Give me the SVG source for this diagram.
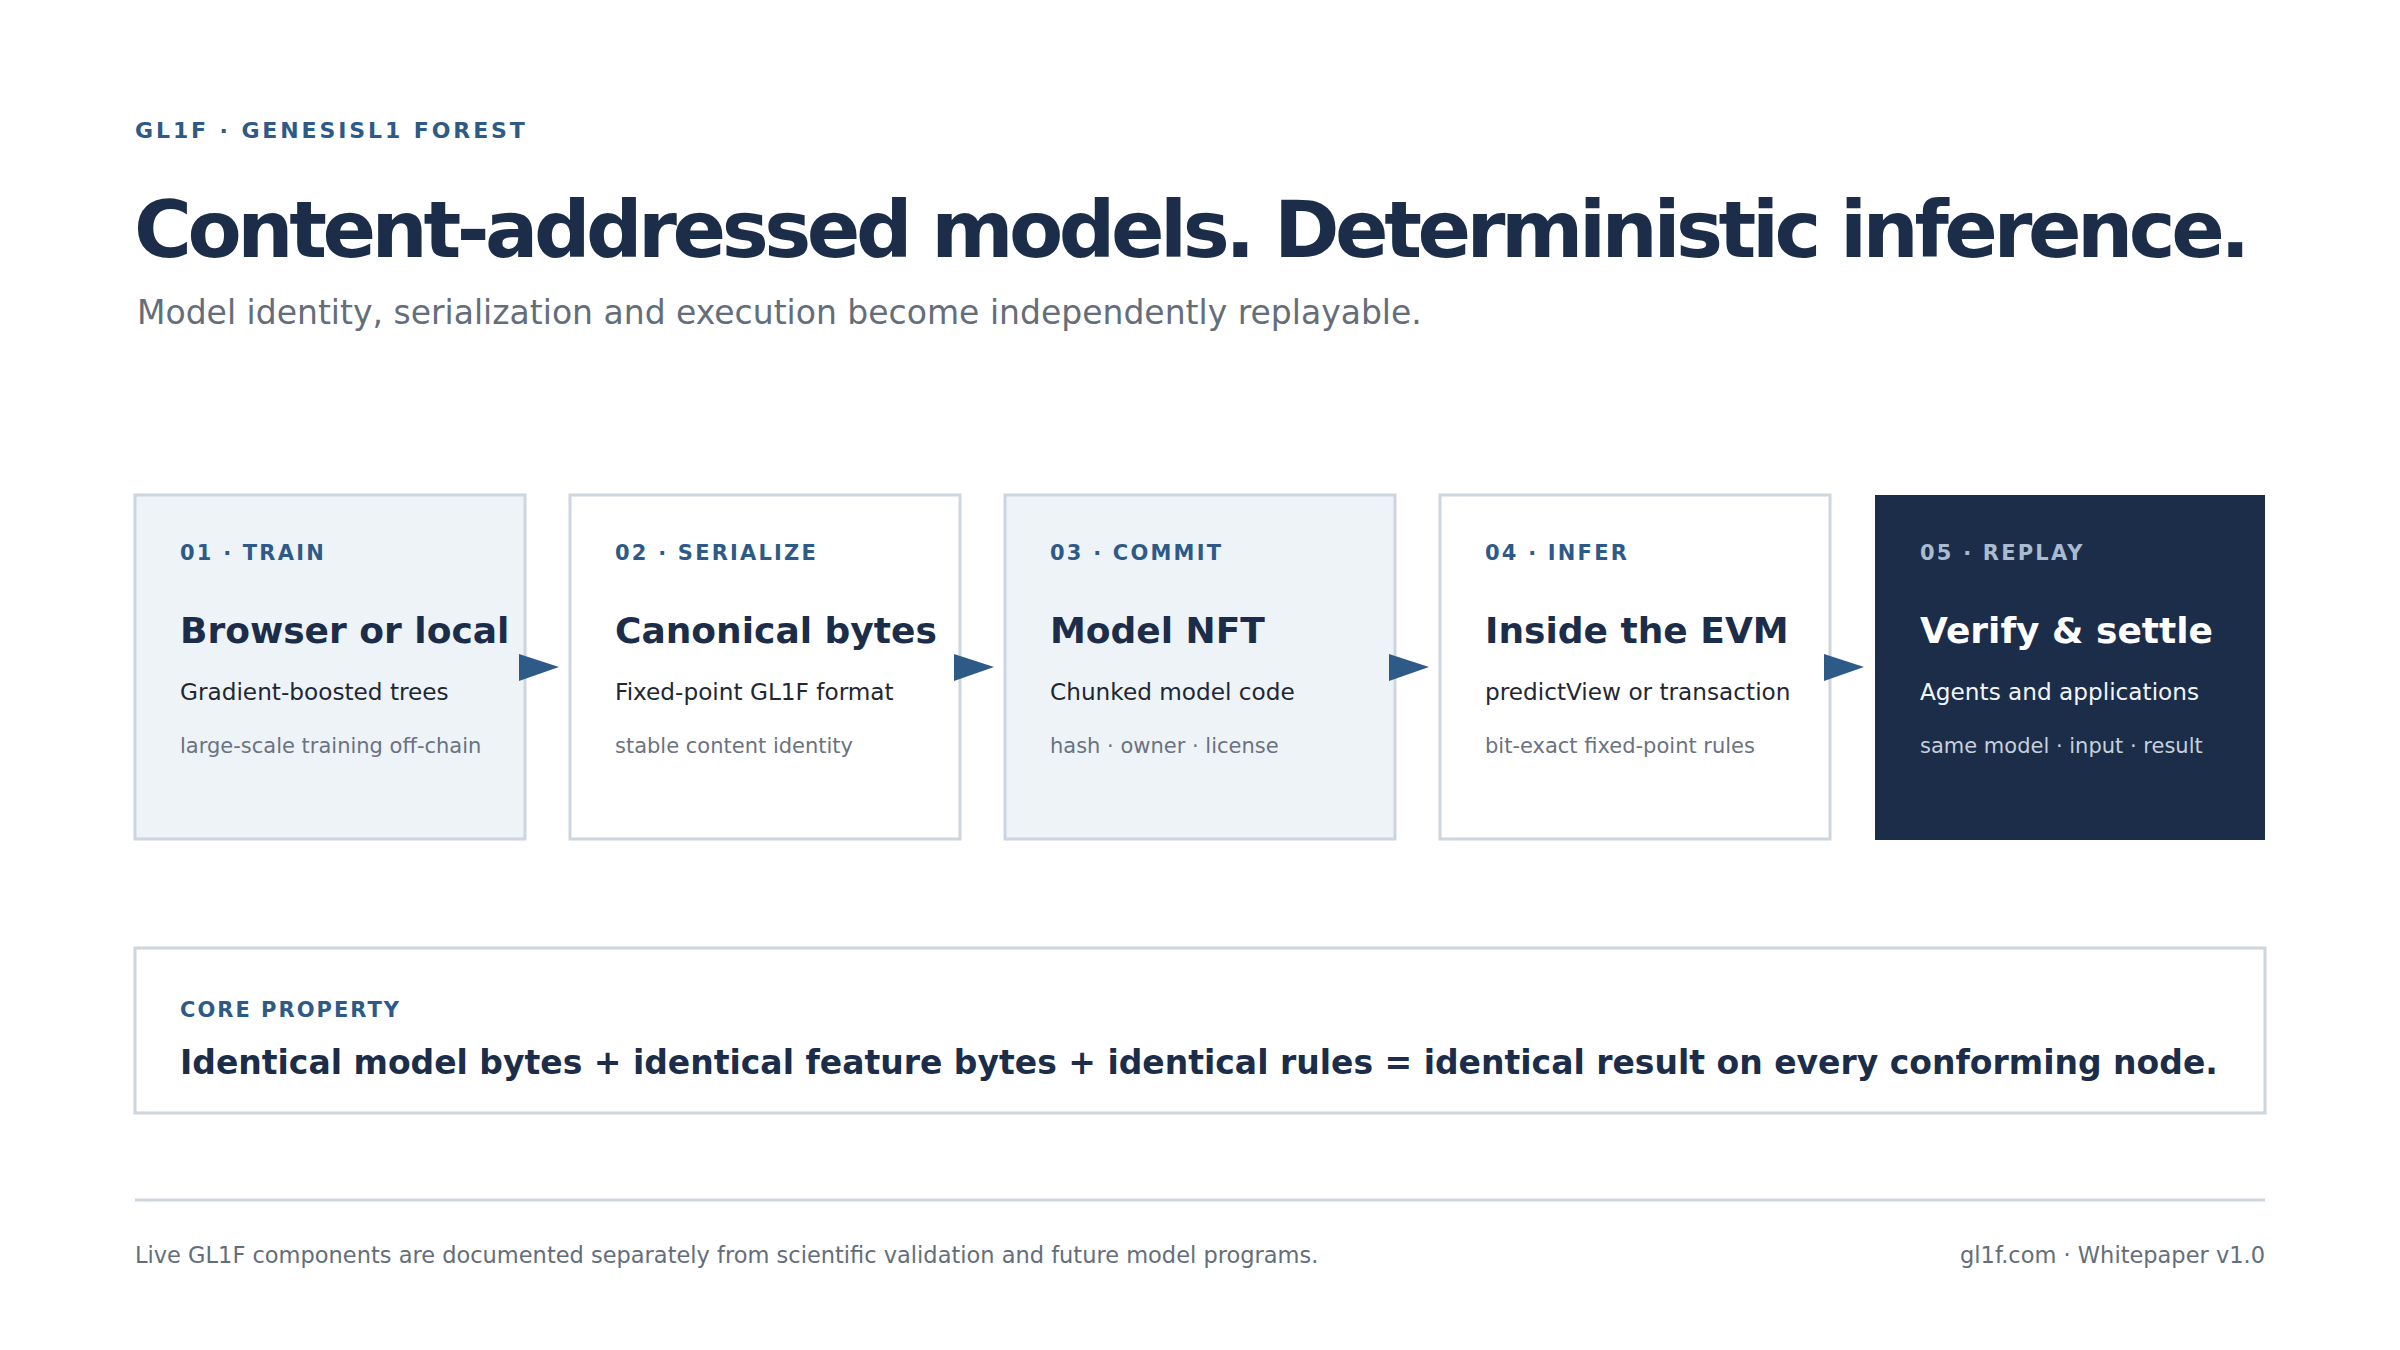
<svg xmlns="http://www.w3.org/2000/svg" width="2400" height="1350" viewBox="0 0 2400 1350">
<defs>
<style>
text{font-family:"DejaVu Sans","Liberation Sans",sans-serif}
.eyebrow{font-size:22px;font-weight:700;fill:#2E5A87;letter-spacing:2.9px}
.title{font-size:79px;font-weight:700;fill:#1C2D4A;letter-spacing:-4.45px}
.subtitle{font-size:33px;fill:#646E7B}
.card{stroke:#CDD5DF;stroke-width:3}
.light{fill:#EEF3F8}
.white{fill:#FFFFFF}
.dark{fill:#1C2D4A}
.lbl{font-size:21px;font-weight:700;fill:#2E5A87;letter-spacing:2.2px}
.hd{font-size:36px;font-weight:700;fill:#1C2D4A}
.sub{font-size:23.2px;fill:#1F2733}
.det{font-size:21px;fill:#6B7280}
.dark-lbl{fill:#A9BBD1}
.dark-hd{fill:#FFFFFF}
.dark-sub{fill:#F2F5F9}
.dark-det{fill:#C6D0DC}
.arrow{fill:#2E5A87}
.core-lbl{font-size:21px;font-weight:700;fill:#2E5A87;letter-spacing:2px}
.core{font-size:33px;font-weight:700;fill:#1C2D4A}
.foot{font-size:22.5px;fill:#646E7B}
</style>
</defs>
<rect x="0" y="0" width="2400" height="1350" fill="#FFFFFF"/>
<g id="header">
<text class="eyebrow" x="135" y="138">GL1F · GENESISL1 FOREST</text>
<text class="title" x="134" y="257">Content-addressed models. Deterministic inference.</text>
<text class="subtitle" x="137" y="324">Model identity, serialization and execution become independently replayable.</text>
</g>
<g id="node-train">
<rect class="card light" x="135" y="495" width="390" height="344"/>
<text class="lbl" x="180" y="560">01 · TRAIN</text>
<text class="hd" x="180" y="643">Browser or local</text>
<text class="sub" x="180" y="700">Gradient-boosted trees</text>
<text class="det" x="180" y="753">large-scale training off-chain</text>
</g>
<g id="node-serialize">
<rect class="card white" x="570" y="495" width="390" height="344"/>
<text class="lbl" x="615" y="560">02 · SERIALIZE</text>
<text class="hd" x="615" y="643">Canonical bytes</text>
<text class="sub" x="615" y="700">Fixed-point GL1F format</text>
<text class="det" x="615" y="753">stable content identity</text>
</g>
<g id="node-commit">
<rect class="card light" x="1005" y="495" width="390" height="344"/>
<text class="lbl" x="1050" y="560">03 · COMMIT</text>
<text class="hd" x="1050" y="643">Model NFT</text>
<text class="sub" x="1050" y="700">Chunked model code</text>
<text class="det" x="1050" y="753">hash · owner · license</text>
</g>
<g id="node-infer">
<rect class="card white" x="1440" y="495" width="390" height="344"/>
<text class="lbl" x="1485" y="560">04 · INFER</text>
<text class="hd" x="1485" y="643">Inside the EVM</text>
<text class="sub" x="1485" y="700">predictView or transaction</text>
<text class="det" x="1485" y="753">bit-exact fixed-point rules</text>
</g>
<g id="node-replay">
<rect class="dark" x="1875" y="495" width="390" height="345"/>
<text class="lbl dark-lbl" x="1920" y="560">05 · REPLAY</text>
<text class="hd dark-hd" x="1920" y="643">Verify &amp; settle</text>
<text class="sub dark-sub" x="1920" y="700">Agents and applications</text>
<text class="det dark-det" x="1920" y="753">same model · input · result</text>
</g>
<g id="connectors">
<polygon class="arrow" points="519,654 559,667 519,681"/>
<polygon class="arrow" points="954,654 994,667 954,681"/>
<polygon class="arrow" points="1389,654 1429,667 1389,681"/>
<polygon class="arrow" points="1824,654 1864,667 1824,681"/>
</g>
<g id="core-property">
<rect class="card white" x="135" y="948" width="2130" height="165"/>
<text class="core-lbl" x="180" y="1017">CORE PROPERTY</text>
<text class="core" x="180" y="1074">Identical model bytes + identical feature bytes + identical rules = identical result on every conforming node.</text>
</g>
<g id="footer">
<line x1="135" y1="1200" x2="2265" y2="1200" stroke="#CDD5DF" stroke-width="3"/>
<text class="foot" x="135" y="1263">Live GL1F components are documented separately from scientific validation and future model programs.</text>
<text class="foot" x="2265" y="1263" text-anchor="end">gl1f.com · Whitepaper v1.0</text>
</g>
</svg>
